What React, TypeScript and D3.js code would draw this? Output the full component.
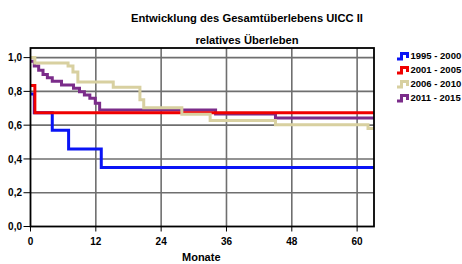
import React from "react";
import * as d3 from "d3";

const titleLines = ["Entwicklung des Gesamtüberlebens UICC II", "relatives Überleben"];
const xTicks = [0, 12, 24, 36, 48, 60];
const yTicks = [0, 0.2, 0.4, 0.6, 0.8, 1.0];
const yTickLabels = ["0,0", "0,2", "0,4", "0,6", "0,8", "1,0"];
const xAxisTitle = "Monate";

const seriesNames = ["1995 - 2000", "2001 - 2005", "2006 - 2010", "2011 - 2015"];
const seriesColors = ["#0a14f5", "#f00000", "#d8d0a0", "#7b2c8a"];

const blueTimes = [0, 0.7, 4.0, 7.0, 13.0, 63.1];
const blueValues = [0.785, 0.674, 0.57, 0.459, 0.35, 0.35];

const redTimes = [0, 0.8, 63.1];
const redValues = [0.835, 0.674, 0.674];

const khakiTimes = [0, 0.8, 6.9, 7.8, 8.7, 15.2, 20.1, 20.8, 27.8, 33.0, 45.0, 62.0, 63.1];
const khakiValues = [1.0, 0.968, 0.95, 0.915, 0.855, 0.824, 0.75, 0.703, 0.664, 0.628, 0.602, 0.58, 0.58];

const purpleTimes = [0, 0.7, 1.5, 2.3, 3.1, 4.0, 5.7, 7.9, 9.0, 9.9, 10.9, 11.9, 12.7, 34.0, 45.0, 63.1];
const purpleValues = [0.978, 0.95, 0.925, 0.9, 0.88, 0.86, 0.838, 0.818, 0.798, 0.779, 0.759, 0.73, 0.69, 0.666, 0.642, 0.642];

// drawing order: blue, purple, red, khaki
const drawOrder = [0, 3, 1, 2];
const seriesTimes = [blueTimes, redTimes, khakiTimes, purpleTimes];
const seriesValues = [blueValues, redValues, khakiValues, purpleValues];

const font = "'Liberation Sans', Arial, Helvetica, sans-serif";

export default function App() {
  const W = 462;
  const H = 264;
  const left = 30.5;
  const right = 374;
  const top = 48;
  const bottom = 226.5;

  const x = d3.scaleLinear().domain([0, 63.1]).range([left, right]);
  const y = d3.scaleLinear().domain([0, 1]).range([bottom, 57.6]);

  const line = d3
    .line<[number, number]>()
    .x((d) => x(d[0]))
    .y((d) => y(d[1]))
    .curve(d3.curveStepAfter);

  const gridColor = "#6f6f6f";

  return (
    <svg
      width={W}
      height={H}
      viewBox={`0 0 ${W} ${H}`}
      style={{ position: "absolute", left: 0, top: 0, background: "#fff" }}
    >
      <rect x={0} y={0} width={W} height={H} fill="#fff" />
      {/* title */}
      <text x={247} y={22} textAnchor="middle" fontFamily={font} fontWeight="bold" fontSize={11.2} fill="#000">
        {titleLines[0]}
      </text>
      <text x={247} y={43.5} textAnchor="middle" fontFamily={font} fontWeight="bold" fontSize={11.2} fill="#000">
        {titleLines[1]}
      </text>

      {/* grid */}
      {yTicks.slice(1).map((t) => (
        <line key={"gy" + t} x1={left} x2={right} y1={y(t)} y2={y(t)} stroke={gridColor} strokeWidth={1.6} />
      ))}
      {xTicks.slice(1).map((t) => (
        <line key={"gx" + t} x1={x(t)} x2={x(t)} y1={top} y2={bottom} stroke={gridColor} strokeWidth={1.6} />
      ))}

      {/* series */}
      {drawOrder.map((i) => {
        const pts: [number, number][] = seriesTimes[i].map((t, k) => [t, seriesValues[i][k]]);
        return (
          <path
            key={"s" + i}
            d={line(pts) || ""}
            fill="none"
            stroke={seriesColors[i]}
            strokeWidth={3}
            strokeLinejoin="miter"
          />
        );
      })}

      {/* frame */}
      <rect x={left} y={top} width={right - left} height={bottom - top} fill="none" stroke="#000" strokeWidth={1.8} />

      {/* y axis ticks */}
      {yTicks.map((t, k) => (
        <g key={"yt" + t}>
          <line x1={left - 7} x2={left} y1={y(t)} y2={y(t)} stroke="#000" strokeWidth={1} />
          <text
            x={22}
            y={y(t)}
            dy="0.36em"
            textAnchor="end"
            fontFamily={font}
            fontWeight="bold"
            fontSize={10}
            fill="#000"
          >
            {yTickLabels[k]}
          </text>
        </g>
      ))}

      {/* x axis ticks */}
      {xTicks.map((t) => (
        <g key={"xt" + t}>
          <line x1={x(t)} x2={x(t)} y1={bottom} y2={bottom + 5} stroke="#000" strokeWidth={1} />
          <text x={x(t)} y={245} textAnchor="middle" fontFamily={font} fontWeight="bold" fontSize={10} fill="#000">
            {t}
          </text>
        </g>
      ))}
      <text x={182} y={261} fontFamily={font} fontWeight="bold" fontSize={11} fill="#000">
        {xAxisTitle}
      </text>

      {/* legend */}
      {seriesNames.map((name, i) => {
        const yc = 56 + i * 14;
        return (
          <g key={"lg" + i}>
            <path
              d={`M397,${yc + 3} H401.5 V${yc - 2.5} H407.5 V${yc + 2}`}
              fill="none"
              stroke={seriesColors[i]}
              strokeWidth={3}
            />
            <text x={410.5} y={yc} dy="0.36em" fontFamily={font} fontWeight="bold" fontSize={9.5} fill="#000">
              {name}
            </text>
          </g>
        );
      })}
    </svg>
  );
}
